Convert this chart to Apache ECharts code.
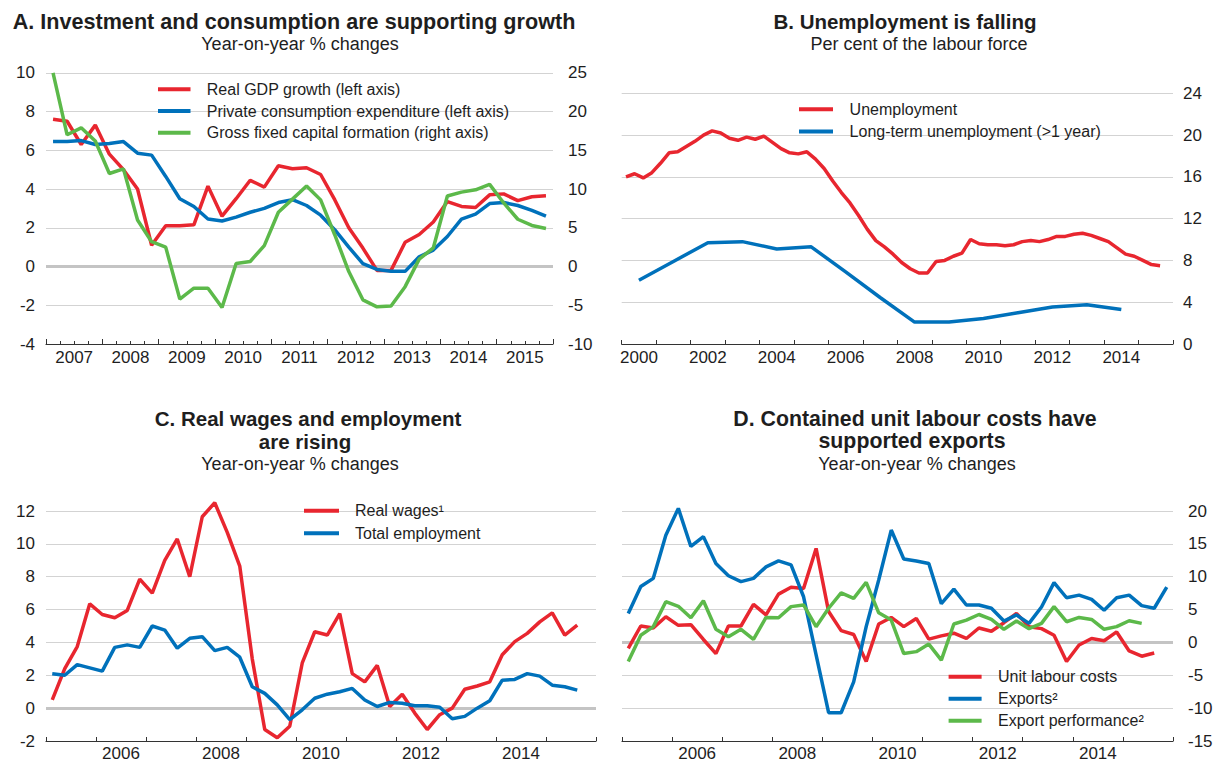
<!DOCTYPE html>
<html>
<head>
<meta charset="utf-8">
<script src="https://cdn.jsdelivr.net/npm/echarts@6/dist/echarts.min.js"></script>
<style>
html,body{margin:0;padding:0;background:#fff;}
#chart{width:1213px;height:761px;}
</style>
</head>
<body>
<div id="chart"></div>
<script>
// ---------- DATA ----------
// Panel A: quarterly, 2007Q1 - 2015Q4
const yearsA = ['2007','2008','2009','2010','2011','2012','2013','2014','2015'];
const startA = 2007;
const gdpA = [7.6,7.5,6.3,7.3,5.8,5.0,4.0,1.1,2.1,2.1,2.15,4.15,2.6,3.5,4.45,4.1,5.2,5.05,5.1,4.75,3.45,2.0,0.95,-0.2,-0.2,1.25,1.65,2.3,3.35,3.1,3.05,3.7,3.75,3.4,3.6,3.65];
const pceA = [6.45,6.45,6.5,6.3,6.35,6.45,5.85,5.75,4.65,3.5,3.1,2.45,2.35,2.55,2.8,3.0,3.3,3.45,3.15,2.65,1.9,1.0,0.15,-0.15,-0.25,-0.25,0.5,0.85,1.55,2.45,2.7,3.25,3.3,3.15,2.9,2.6];
const gfcfA = [25.0,17.0,17.9,16.2,12.0,12.6,6.0,3.2,2.5,-4.2,-2.8,-2.8,-5.3,0.4,0.65,2.7,7.0,8.7,10.4,8.6,4.1,-0.65,-4.3,-5.2,-5.1,-2.6,0.95,2.4,9.1,9.6,9.9,10.6,8.2,6.1,5.3,4.9];

// Panel B: unemployment quarterly from 2000Q1, long-term annual from 2000
const yearsB = ['2000','2001','2002','2003','2004','2005','2006','2007','2008','2009','2010','2011','2012','2013','2014','2015'];
const startB = 2000;
const unempB = [16.0,16.3,15.9,16.4,17.3,18.3,18.4,18.9,19.4,20.0,20.4,20.2,19.7,19.5,19.8,19.6,19.9,19.3,18.7,18.3,18.2,18.4,17.7,16.8,15.6,14.5,13.5,12.3,11.0,9.9,9.3,8.6,7.8,7.2,6.8,6.8,7.9,8.0,8.4,8.7,10.0,9.6,9.5,9.5,9.4,9.5,9.8,9.9,9.8,10.0,10.3,10.3,10.5,10.6,10.4,10.1,9.8,9.2,8.6,8.4,8.0,7.6,7.5];
const ltUnempB = [6.1,7.9,9.7,9.8,9.1,9.3,6.9,4.45,2.1,2.1,2.45,3.0,3.55,3.75,3.3];

// Panel C: quarterly from 2005Q1
const yearsC = ['2005','2006','2007','2008','2009','2010','2011','2012','2013','2014','2015'];
const startC = 2005;
const wagesC = [0.5,2.4,3.75,6.35,5.7,5.5,5.95,7.85,7.0,9.0,10.3,8.0,11.65,12.5,10.7,8.65,3.0,-1.3,-1.8,-1.1,2.75,4.65,4.45,5.75,2.1,1.6,2.6,0.1,0.85,-0.3,-1.3,-0.4,0.0,1.15,1.35,1.6,3.25,4.05,4.55,5.25,5.8,4.45,5.05];
const emplC = [2.1,2.0,2.65,2.45,2.25,3.7,3.85,3.7,5.0,4.75,3.65,4.25,4.35,3.5,3.7,3.1,1.3,0.9,0.2,-0.7,-0.1,0.6,0.85,1.0,1.2,0.5,0.1,0.35,0.3,0.15,0.15,0.05,-0.65,-0.5,0.0,0.45,1.7,1.75,2.1,1.95,1.4,1.3,1.1];

// Panel D: quarterly from 2005Q1
const yearsD = ['2005','2006','2007','2008','2009','2010','2011','2012','2013','2014','2015'];
const startD = 2005;
const ulcD = [-0.9,2.5,2.2,3.9,2.6,2.7,0.45,-1.7,2.5,2.5,5.8,4.2,7.35,8.4,8.2,14.3,4.7,1.8,1.2,-2.9,2.8,3.8,2.4,3.65,0.5,1.0,1.4,0.6,2.2,1.7,3.0,4.4,2.4,2.1,1.1,-2.9,-0.4,0.6,0.25,1.6,-1.3,-2.1,-1.6];
const exportsD = [4.4,8.5,9.75,16.3,20.4,14.6,16.1,12.0,10.15,9.25,9.75,11.5,12.4,11.8,6.95,-1.9,-10.7,-10.7,-6.0,2.4,9.5,17.1,12.7,12.4,12.0,5.9,8.1,5.7,5.7,5.2,3.25,4.2,2.9,5.4,9.1,6.8,7.2,6.55,4.9,6.8,7.2,5.6,5.2,8.4];
const exportPerfD = [-2.9,1.1,2.4,6.2,5.5,3.75,6.35,2.0,0.85,2.0,0.45,3.8,3.75,5.45,5.7,2.4,5.2,7.55,6.7,9.15,4.5,3.4,-1.7,-1.4,-0.25,-2.7,2.8,3.4,4.25,3.5,2.0,3.25,2.1,2.9,5.45,3.15,3.8,3.5,2.0,2.4,3.3,2.9];

// ---------- STYLE ----------
const FONT = '"Liberation Sans", Arial, Helvetica, sans-serif';
const RED = '#e8262f', BLUE = '#0071bb', GREEN = '#5cb94a';
const TXT = '#1e1e1e', AX = '#333333', GRIDC = '#d3d3d3', ZEROC = '#c4c4c4';
const LW = 3.5;

// quarter i of a series starting at startYear -> middle of that quarter
function quarterly(startYear, values) { return values.map((v, i) => [startYear + (i + 0.5) / 4, v]); }
function annual(startYear, values) { return values.map((v, i) => [startYear + i + 0.5, v]); }

function valueX(grid, min, max, tickLen, minor) {
  return {
    gridIndex: grid, type: 'value', min: min, max: max, interval: 1, position: 'bottom',
    axisLine: { show: true, onZero: false, lineStyle: { color: AX, width: 1.2 } },
    axisTick: { show: true, inside: true, length: tickLen, lineStyle: { color: AX, width: 1 } },
    minorTick: { show: !!minor, splitNumber: 4, length: 3, lineStyle: { color: AX, width: 1 } },
    axisLabel: { show: false }, splitLine: { show: false }, minorSplitLine: { show: false }
  };
}
function labelX(grid, years, interval, margin) {
  return {
    gridIndex: grid, type: 'category', data: years, position: 'bottom', boundaryGap: true,
    axisLine: { show: false, onZero: false }, axisTick: { show: false }, splitLine: { show: false },
    axisLabel: { show: true, interval: interval, margin: margin, fontSize: 17, lineHeight: 14, color: TXT, fontFamily: FONT }
  };
}
function valueY(grid, min, max, interval, pos, split, margin) {
  return {
    gridIndex: grid, type: 'value', min: min, max: max, interval: interval, position: pos,
    axisLine: { show: false, onZero: false }, axisTick: { show: false },
    splitLine: { show: split, lineStyle: { color: GRIDC, width: 1 } },
    axisLabel: { fontSize: 17, color: TXT, fontFamily: FONT, margin: margin }
  };
}
function line(name, xi, yi, data, color) {
  return {
    type: 'line', name: name, xAxisIndex: xi, yAxisIndex: yi, data: data,
    symbol: 'none', showSymbol: false, color: color, clip: false,
    lineStyle: { color: color, width: LW }, itemStyle: { color: color },
    z: 3, animation: false, silent: true
  };
}
function zeroLine(xi, yi) {
  return {
    type: 'line', xAxisIndex: xi, yAxisIndex: yi, data: [], silent: true, animation: false,
    markLine: { silent: true, z: 1, symbol: ['none', 'none'], label: { show: false },
      lineStyle: { color: ZEROC, width: 3, type: 'solid' }, data: [{ yAxis: 0 }], animation: false }
  };
}
function legend(names, left, top, iw, gap, pad) {
  return {
    data: names, orient: 'vertical', left: left, top: top, padding: 0,
    icon: 'rect', itemWidth: iw, itemHeight: 4, itemGap: gap, selectedMode: false,
    textStyle: { fontSize: 16, lineHeight: 18, color: TXT, fontFamily: FONT, padding: [0, 0, 0, pad] }
  };
}
function txt(str, x, y, size, bold) {
  const lh = Math.min(size, 19);
  return {
    type: 'text', x: x, y: y, silent: true,
    style: {
      text: str, fill: TXT, fontSize: size, lineHeight: lh, fontWeight: bold ? 'bold' : 'normal', fontFamily: FONT,
      textAlign: 'center', textVerticalAlign: 'middle', align: 'center', verticalAlign: 'middle'
    }
  };
}

const nA = ['Real GDP growth (left axis)', 'Private consumption expenditure (left axis)', 'Gross fixed capital formation (right axis)'];
const nB = ['Unemployment', 'Long-term unemployment (>1 year)'];
const nC = ['Real wages\u00b9', 'Total employment'];
const nD = ['Unit labour costs', 'Exports\u00b2', 'Export performance\u00b2'];

const option = {
  backgroundColor: '#ffffff',
  animation: false,
  textStyle: { fontFamily: FONT },
  graphic: { elements: [
    txt('A. Investment and consumption are supporting growth', 294, 21, 21.6, true),
    txt('Year-on-year % changes', 300, 43.5, 18, false),
    txt('B. Unemployment is falling', 905, 21, 20.5, true),
    txt('Per cent of the labour force', 919, 43.5, 18, false),
    txt('C. Real wages and employment', 308, 418.5, 20.5, true),
    txt('are rising', 305, 441, 20.5, true),
    txt('Year-on-year % changes', 300, 463.5, 18, false),
    txt('D. Contained unit labour costs have', 915, 418.5, 21.3, true),
    txt('supported exports', 912, 441, 21.3, true),
    txt('Year-on-year % changes', 917, 463.5, 18, false)
  ]},
  grid: [
    { left: 46, top: 72.8, width: 507, height: 271.2, outerBoundsMode: 'none', containLabel: false },
    { left: 621.7, top: 93.3, width: 551.3, height: 250.7, outerBoundsMode: 'none', containLabel: false },
    { left: 46, top: 511, width: 550, height: 230, outerBoundsMode: 'none', containLabel: false },
    { left: 622, top: 511, width: 551, height: 230, outerBoundsMode: 'none', containLabel: false }
  ],
  xAxis: [
    valueX(0, 2007, 2016, 5, true),
    labelX(0, yearsA, 0, 6),
    valueX(1, 2000, 2016, 4, false),
    labelX(1, yearsB, 1, 6),
    valueX(2, 2005, 2016, 4, false),
    labelX(2, yearsC, function (i, v) { return (+v) % 2 === 0; }, 5),
    valueX(3, 2005, 2016, 4, false),
    labelX(3, yearsD, function (i, v) { return (+v) % 2 === 0; }, 5)
  ],
  yAxis: [
    valueY(0, -4, 10, 2, 'left', true, 11),
    valueY(0, -10, 25, 5, 'right', false, 15),
    valueY(1, 0, 24, 4, 'right', true, 10),
    valueY(2, -2, 12, 2, 'left', true, 11),
    valueY(3, -15, 20, 5, 'right', true, 15)
  ],
  legend: [
    legend(nA, 158, 80.3, 32.5, 3.7, 11.3),
    legend(nB, 799, 100.3, 34, 4.3, 11.6),
    legend(nC, 304, 501.7, 35, 4.6, 11),
    legend(nD, 948.6, 667.7, 33, 4, 11.4)
  ],
  series: [
    zeroLine(0, 0),
    line(nA[0], 0, 0, quarterly(startA, gdpA), RED),
    line(nA[1], 0, 0, quarterly(startA, pceA), BLUE),
    line(nA[2], 0, 1, quarterly(startA, gfcfA), GREEN),
    line(nB[0], 2, 2, quarterly(startB, unempB), RED),
    line(nB[1], 2, 2, annual(startB, ltUnempB), BLUE),
    zeroLine(4, 3),
    line(nC[0], 4, 3, quarterly(startC, wagesC), RED),
    line(nC[1], 4, 3, quarterly(startC, emplC), BLUE),
    zeroLine(6, 4),
    line(nD[0], 6, 4, quarterly(startD, ulcD), RED),
    line(nD[1], 6, 4, quarterly(startD, exportsD), BLUE),
    line(nD[2], 6, 4, quarterly(startD, exportPerfD), GREEN)
  ]
};

const chart = echarts.init(document.getElementById('chart'), null, { renderer: 'svg', width: 1213, height: 761 });
chart.setOption(option);
</script>
</body>
</html>
